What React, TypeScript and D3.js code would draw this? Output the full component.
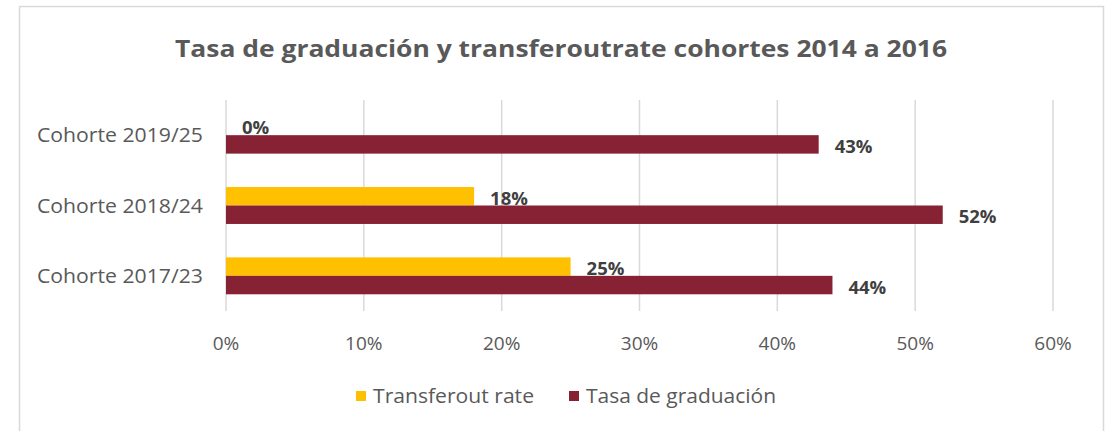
import React, { useEffect, useRef } from "react";
import * as d3 from "d3";

const categories = ["Cohorte 2019/25", "Cohorte 2018/24", "Cohorte 2017/23"];
const transferout = [0, 18, 25];
const graduacion = [43, 52, 44];
const xTicks = [0, 10, 20, 30, 40, 50, 60];
const seriesNames = ["Transferout rate", "Tasa de graduación"];
const seriesColors = ["#FFC000", "#872234"];
const title = "Tasa de graduación y transferoutrate cohortes 2014 a 2016";

const FONT = "'Open Sans', 'Liberation Sans', sans-serif";

const App = () => {
  const svgRef = useRef<SVGSVGElement>(null);

  useEffect(() => {
    const height = 431;
    const plot = { left: 226, right: 1053, top: 100, bottom: 311 };

    const svg = d3.select(svgRef.current);
    svg.selectAll("*").remove();

    // Chart frame (bottom edge is cut off in the reference)
    svg
      .append("path")
      .attr("d", `M19.5,${height + 2}V6.5H1103.5V${height + 2}`)
      .attr("fill", "none")
      .attr("stroke", "#d9d9d9")
      .attr("stroke-width", 1.5);

    // Title
    svg
      .append("text")
      .attr("x", 561)
      .attr("y", 57)
      .attr("text-anchor", "middle")
      .attr("font-family", FONT)
      .attr("font-weight", "bold")
      .attr("font-size", 24)
      .attr("fill", "#595959")
      .attr("textLength", 772)
      .attr("lengthAdjust", "spacingAndGlyphs")
      .text(title);

    const xScale = d3.scaleLinear().domain([0, 60]).range([plot.left, plot.right]);
    const yScale = d3
      .scaleBand()
      .domain(categories)
      .range([plot.top, plot.bottom])
      .paddingInner(0.475)
      .paddingOuter(0.2375);
    const subScale = d3
      .scaleBand()
      .domain(seriesNames)
      .range([0, yScale.bandwidth()]);

    // Gridlines
    svg
      .append("g")
      .selectAll("line")
      .data(xTicks)
      .join("line")
      .attr("x1", (d) => xScale(d))
      .attr("x2", (d) => xScale(d))
      .attr("y1", plot.top)
      .attr("y2", plot.bottom)
      .attr("stroke", "#d9d9d9")
      .attr("stroke-width", 1.5);

    // Tick labels
    svg
      .append("g")
      .selectAll("text")
      .data(xTicks)
      .join("text")
      .attr("x", (d) => xScale(d))
      .attr("y", 343)
      .attr("dy", "0.35em")
      .attr("text-anchor", "middle")
      .attr("font-family", FONT)
      .attr("font-size", 19)
      .attr("fill", "#595959")
      .text((d) => `${d}%`);

    // Category labels
    svg
      .append("g")
      .selectAll("text")
      .data(categories)
      .join("text")
      .attr("x", 203)
      .attr("y", (d) => yScale(d)! + yScale.bandwidth() / 2)
      .attr("dy", "0.35em")
      .attr("text-anchor", "end")
      .attr("font-family", FONT)
      .attr("font-size", 20)
      .attr("fill", "#595959")
      .attr("textLength", 166)
      .attr("lengthAdjust", "spacingAndGlyphs")
      .text((d) => d);

    const rows = categories.map((c, i) => ({
      cat: c,
      values: [transferout[i], graduacion[i]],
    }));

    const groups = svg
      .append("g")
      .selectAll("g")
      .data(rows)
      .join("g")
      .attr("transform", (d) => `translate(0,${yScale(d.cat)})`);

    groups
      .selectAll("rect")
      .data((d) => d.values.map((v, j) => ({ v, j })))
      .join("rect")
      .attr("x", xScale(0))
      .attr("y", (d) => subScale(seriesNames[d.j])!)
      .attr("width", (d) => xScale(d.v) - xScale(0))
      .attr("height", subScale.bandwidth())
      .attr("fill", (d) => seriesColors[d.j]);

    groups
      .selectAll("text")
      .data((d) => d.values.map((v, j) => ({ v, j })))
      .join("text")
      .attr("x", (d) => xScale(d.v) + 16)
      .attr("y", (d) => subScale(seriesNames[d.j])! + subScale.bandwidth() / 2 + 2)
      .attr("dy", "0.35em")
      .attr("font-family", FONT)
      .attr("font-weight", "bold")
      .attr("font-size", 18.5)
      .attr("fill", "#404040")
      .text((d) => `${d.v}%`);

    // Legend
    const legendItems = [
      { name: seriesNames[0], color: seriesColors[0], x: 356, w: 161 },
      { name: seriesNames[1], color: seriesColors[1], x: 569, w: 190 },
    ];
    const legend = svg
      .append("g")
      .selectAll("g")
      .data(legendItems)
      .join("g")
      .attr("transform", (d) => `translate(${d.x},396)`);
    legend
      .append("rect")
      .attr("x", 0)
      .attr("y", -5)
      .attr("width", 10)
      .attr("height", 10)
      .attr("fill", (d) => d.color);
    legend
      .append("text")
      .attr("x", 17)
      .attr("y", 0)
      .attr("dy", "0.35em")
      .attr("font-family", FONT)
      .attr("font-size", 20)
      .attr("fill", "#595959")
      .attr("textLength", (d) => d.w)
      .attr("lengthAdjust", "spacingAndGlyphs")
      .text((d) => d.name);
  }, []);

  return (
    <svg
      ref={svgRef}
      width={1112}
      height={431}
      style={{ position: "absolute", left: 0, top: 0, background: "#fff" }}
    />
  );
};

export default App;
